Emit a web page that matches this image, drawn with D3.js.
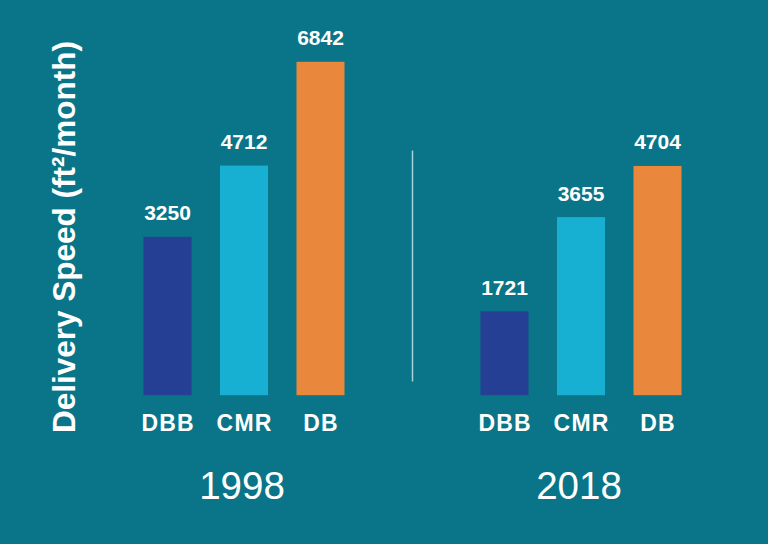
<!DOCTYPE html>
<html>
<head>
<meta charset="utf-8">
<script src="https://cdn.jsdelivr.net/npm/d3@7"></script>
<style>
  html, body { margin: 0; padding: 0; background: #0a7588; }
  svg { display: block; }
  text { font-family: "Liberation Sans", Arial, Helvetica, sans-serif; fill: #ffffff; }
</style>
</head>
<body>
<svg id="chart" width="768" height="544"></svg>
<script>
const years = ["1998", "2018"];
const categories = ["DBB", "CMR", "DB"];
const values1998 = [3250, 4712, 6842];
const values2018 = [1721, 3655, 4704];
const yTitle = "Delivery Speed (ft\u00B2/month)";

const seriesByYear = { "1998": values1998, "2018": values2018 };
const colors = { "DBB": "#243f93", "CMR": "#17afd2", "DB": "#e9883c" };

const W = 768, H = 544;
const svg = d3.select("#chart");
svg.append("rect").attr("width", W).attr("height", H).attr("fill", "#0a7588");

const x0 = d3.scaleBand().domain(years).range([75.5, 749.5]).padding(0);
const innerLen = 201;
const x1 = d3.scaleBand().domain(categories).range([0, innerLen]).paddingInner(0.3725).paddingOuter(0);
const y = d3.scaleLinear().domain([0, 7000]).range([395.2, 54.1]);

const groups = svg.selectAll("g.year")
  .data(years)
  .join("g")
  .attr("class", "year")
  .attr("transform", d => `translate(${x0(d) + x0.bandwidth() / 2 - innerLen / 2},0)`);

const rows = d => categories.map((c, i) => ({ cat: c, value: seriesByYear[d][i] }));

groups.selectAll("rect.bar")
  .data(rows)
  .join("rect")
  .attr("class", "bar")
  .attr("x", d => x1(d.cat))
  .attr("width", x1.bandwidth())
  .attr("y", d => y(d.value))
  .attr("height", d => y(0) - y(d.value))
  .attr("fill", d => colors[d.cat]);

groups.selectAll("text.val")
  .data(rows)
  .join("text")
  .attr("class", "val")
  .attr("x", d => x1(d.cat) + x1.bandwidth() / 2)
  .attr("y", d => y(d.value) - 16.5)
  .attr("text-anchor", "middle")
  .style("font-size", "21px")
  .style("font-weight", "bold")
  .text(d => d.value);

groups.selectAll("text.cat")
  .data(rows)
  .join("text")
  .attr("class", "cat")
  .attr("x", d => x1(d.cat) + x1.bandwidth() / 2 + 0.6)
  .attr("y", 430.5)
  .attr("text-anchor", "middle")
  .style("font-size", "23px")
  .style("font-weight", "bold")
  .style("letter-spacing", "1.2px")
  .text(d => d.cat);

groups.append("text")
  .attr("class", "yr")
  .attr("x", innerLen / 2 - 2)
  .attr("y", 498.5)
  .attr("text-anchor", "middle")
  .style("font-size", "38.5px")
  .text(d => d);

// divider between the two year groups
svg.append("line")
  .attr("x1", x0("2018")).attr("x2", x0("2018"))
  .attr("y1", 150.5).attr("y2", 381.5)
  .attr("stroke", "#a6d3da")
  .attr("stroke-width", 1.5);

svg.append("text")
  .attr("transform", "translate(75,237) rotate(-90)")
  .attr("text-anchor", "middle")
  .style("font-size", "31.5px")
  .style("font-weight", "bold")
  .text(yTitle);
</script>
</body>
</html>
